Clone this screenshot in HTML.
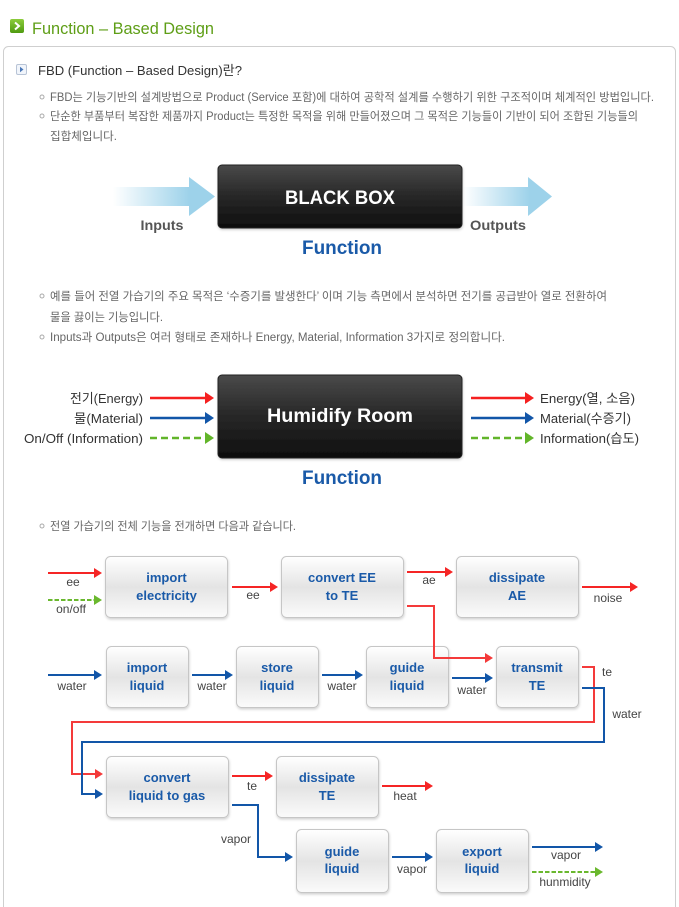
<!DOCTYPE html>
<html><head><meta charset="utf-8"><style>
html,body{margin:0;padding:0;background:#fff;}
svg{display:block;}
.kr{font-family:"Liberation Sans","Noto Sans CJK KR",sans-serif;}
</style></head><body>
<svg width="679" height="907" viewBox="0 0 679 907" xmlns="http://www.w3.org/2000/svg" class="kr">
<defs>
<linearGradient id="bx" x1="0" y1="0" x2="0" y2="1">
<stop offset="0" stop-color="#ffffff"/><stop offset="0.5" stop-color="#e4e4e4"/><stop offset="1" stop-color="#fbfbfb"/>
</linearGradient>
<linearGradient id="dk" x1="0" y1="0" x2="0" y2="1">
<stop offset="0" stop-color="#4a4a4a"/><stop offset="0.45" stop-color="#2a2a2a"/><stop offset="1" stop-color="#0e0e0e"/>
</linearGradient>
<linearGradient id="ga" x1="0" y1="0" x2="1" y2="0">
<stop offset="0" stop-color="#9dd2ea" stop-opacity="0"/><stop offset="0.75" stop-color="#9dd2ea"/><stop offset="1" stop-color="#9dd2ea"/>
</linearGradient>
<linearGradient id="gi" x1="0" y1="0" x2="0" y2="1">
<stop offset="0" stop-color="#8ccc3c"/><stop offset="1" stop-color="#4f9a10"/>
</linearGradient>
<filter id="sh" x="-5%" y="-5%" width="112%" height="120%"><feDropShadow dx="0.5" dy="1.5" stdDeviation="1.2" flood-color="#000" flood-opacity="0.18"/></filter>
</defs>

<!-- header -->
<rect x="10" y="19" width="14" height="14" rx="2" fill="url(#gi)"/>
<path d="M15 22.5 L19 26 L15 29.5" stroke="#fff" stroke-width="2" fill="none"/>
<text x="32" y="34" font-size="17" fill="#5e9e16" textLength="182" lengthAdjust="spacingAndGlyphs">Function – Based Design</text>

<!-- container -->
<rect x="3.5" y="46.5" width="672" height="880" rx="5" fill="#fff" stroke="#cfcfcf"/>

<!-- subheading -->
<rect x="16.5" y="64.5" width="10" height="10" rx="1.5" fill="#f1f5fb" stroke="#b8c4d6"/>
<path d="M20 66.8 L23.5 69.5 L20 72.2 Z" fill="#4a78b8"/>
<text x="38" y="75" font-size="13" fill="#333" textLength="204" lengthAdjust="spacingAndGlyphs">FBD (Function – Based Design)란?</text>

<g fill="none" stroke="#aaa" stroke-width="1">
<circle cx="42" cy="97" r="2"/><circle cx="42" cy="116" r="2"/>
<circle cx="42" cy="296" r="2"/><circle cx="42" cy="337" r="2"/>
<circle cx="42" cy="526" r="2"/>
</g>
<g font-size="11.5" fill="#666">
<text x="50" y="101" textLength="604" lengthAdjust="spacingAndGlyphs">FBD는 기능기반의 설계방법으로 Product (Service 포함)에 대하여 공학적 설계를 수행하기 위한 구조적이며 체계적인 방법입니다.</text>
<text x="50" y="120" textLength="588" lengthAdjust="spacingAndGlyphs">단순한 부품부터 복잡한 제품까지 Product는 특정한 목적을 위해 만들어졌으며 그 목적은 기능들이 기반이 되어 조합된 기능들의</text>
<text x="50" y="140" textLength="67" lengthAdjust="spacingAndGlyphs">집합체입니다.</text>
<text x="50" y="300" textLength="557" lengthAdjust="spacingAndGlyphs">예를 들어 전열 가습기의 주요 목적은 ‘수증기를 발생한다’ 이며 기능 측면에서 분석하면 전기를 공급받아 열로 전환하여</text>
<text x="50" y="321" textLength="113" lengthAdjust="spacingAndGlyphs">물을 끓이는 기능입니다.</text>
<text x="50" y="341" textLength="455" lengthAdjust="spacingAndGlyphs">Inputs과 Outputs은 여러 형태로 존재하나 Energy, Material, Information 3가지로 정의합니다.</text>
<text x="50" y="530" textLength="246" lengthAdjust="spacingAndGlyphs">전열 가습기의 전체 기능을 전개하면 다음과 같습니다.</text>
</g>

<!-- BLACK BOX diagram -->
<path d="M113 187 H189 V177 L215 196.5 L189 216 V206 H113 Z" fill="url(#ga)"/>
<path d="M463 187 H528 V177 L552 196.5 L528 216 V206 H463 Z" fill="url(#ga)"/>
<rect x="218" y="165" width="244" height="63" rx="4" fill="url(#dk)" stroke="#222" filter="url(#sh)"/>
<text x="340" y="204" font-size="19" font-weight="bold" fill="#fff" text-anchor="middle" textLength="110" lengthAdjust="spacingAndGlyphs">BLACK BOX</text>
<text x="162" y="230" font-size="14" font-weight="bold" fill="#555" text-anchor="middle" textLength="43" lengthAdjust="spacingAndGlyphs">Inputs</text>
<text x="498" y="230" font-size="14" font-weight="bold" fill="#555" text-anchor="middle" textLength="56" lengthAdjust="spacingAndGlyphs">Outputs</text>
<text x="342" y="254" font-size="19" font-weight="bold" fill="#1a5aa8" text-anchor="middle" textLength="80" lengthAdjust="spacingAndGlyphs">Function</text>

<!-- Humidify diagram -->
<rect x="218" y="375" width="244" height="83" rx="4" fill="url(#dk)" stroke="#222" filter="url(#sh)"/>
<text x="340" y="422" font-size="19" font-weight="bold" fill="#fff" text-anchor="middle" textLength="146" lengthAdjust="spacingAndGlyphs">Humidify Room</text>
<text x="342" y="484" font-size="19" font-weight="bold" fill="#1a5aa8" text-anchor="middle" textLength="80" lengthAdjust="spacingAndGlyphs">Function</text>
<g stroke-width="2.5" fill="none">
<line x1="150" y1="398" x2="207" y2="398" stroke="#f52020"/>
<line x1="150" y1="418" x2="207" y2="418" stroke="#1256a8"/>
<line x1="150" y1="438" x2="207" y2="438" stroke="#62b52a" stroke-dasharray="7,4"/>
<line x1="471" y1="398" x2="527" y2="398" stroke="#f52020"/>
<line x1="471" y1="418" x2="527" y2="418" stroke="#1256a8"/>
<line x1="471" y1="438" x2="527" y2="438" stroke="#62b52a" stroke-dasharray="7,4"/>
</g>
<g>
<path d="M205 392 L214 398 L205 404Z" fill="#f52020"/>
<path d="M205 412 L214 418 L205 424Z" fill="#1256a8"/>
<path d="M205 432 L214 438 L205 444Z" fill="#62b52a"/>
<path d="M525 392 L534 398 L525 404Z" fill="#f52020"/>
<path d="M525 412 L534 418 L525 424Z" fill="#1256a8"/>
<path d="M525 432 L534 438 L525 444Z" fill="#62b52a"/>
</g>
<g font-size="13" fill="#333">
<text x="143" y="403" text-anchor="end" textLength="73" lengthAdjust="spacingAndGlyphs">전기(Energy)</text>
<text x="143" y="423" text-anchor="end" textLength="69" lengthAdjust="spacingAndGlyphs">물(Material)</text>
<text x="143" y="443" text-anchor="end" textLength="119" lengthAdjust="spacingAndGlyphs">On/Off (Information)</text>
<text x="540" y="403" textLength="95" lengthAdjust="spacingAndGlyphs">Energy(열, 소음)</text>
<text x="540" y="423" textLength="91" lengthAdjust="spacingAndGlyphs">Material(수증기)</text>
<text x="540" y="443" textLength="99" lengthAdjust="spacingAndGlyphs">Information(습도)</text>
</g>

<!-- flow boxes -->
<g fill="url(#bx)" stroke="#c6c6c6" stroke-width="1" filter="url(#sh)">
<rect x="105.5" y="556.5" width="122" height="61" rx="5"/>
<rect x="281.5" y="556.5" width="122" height="61" rx="5"/>
<rect x="456.5" y="556.5" width="122" height="61" rx="5"/>
<rect x="106.5" y="646.5" width="82" height="61" rx="5"/>
<rect x="236.5" y="646.5" width="82" height="61" rx="5"/>
<rect x="366.5" y="646.5" width="82" height="61" rx="5"/>
<rect x="496.5" y="646.5" width="82" height="61" rx="5"/>
<rect x="106.5" y="756.5" width="122" height="61" rx="5"/>
<rect x="276.5" y="756.5" width="102" height="61" rx="5"/>
<rect x="296.5" y="829.5" width="92" height="63" rx="5"/>
<rect x="436.5" y="829.5" width="92" height="63" rx="5"/>
</g>
<g font-size="13" font-weight="bold" fill="#1a5aa8" text-anchor="middle">
<text x="166.5" y="582">import</text><text x="166.5" y="600">electricity</text>
<text x="342" y="582">convert EE</text><text x="342" y="600">to TE</text>
<text x="517" y="582">dissipate</text><text x="517" y="600">AE</text>
<text x="147" y="672">import</text><text x="147" y="690">liquid</text>
<text x="277" y="672">store</text><text x="277" y="690">liquid</text>
<text x="407" y="672">guide</text><text x="407" y="690">liquid</text>
<text x="537" y="672">transmit</text><text x="537" y="690">TE</text>
<text x="167" y="782">convert</text><text x="167" y="800">liquid to gas</text>
<text x="327" y="782">dissipate</text><text x="327" y="800">TE</text>
<text x="342" y="856">guide</text><text x="342" y="873">liquid</text>
<text x="482" y="856">export</text><text x="482" y="873">liquid</text>
</g>

<!-- flow connectors -->
<g fill="none" stroke-width="2">
<g stroke="#f52525">
<line x1="48" y1="573" x2="95" y2="573"/>
<line x1="232" y1="587" x2="271" y2="587"/>
<line x1="407" y1="572" x2="446" y2="572"/>
<line x1="582" y1="587" x2="631" y2="587"/>
<polyline points="407,606 434,606 434,658 486,658" stroke="#f43a3a"/>
<polyline points="582,667 594,667 594,722 72,722 72,774 96,774" stroke="#f43a3a"/>
<line x1="232" y1="776" x2="266" y2="776"/>
<line x1="382" y1="786" x2="426" y2="786"/>
</g>
<g stroke="#1256a8">
<line x1="48" y1="675" x2="95" y2="675"/>
<line x1="192" y1="675" x2="226" y2="675"/>
<line x1="322" y1="675" x2="356" y2="675"/>
<line x1="452" y1="678" x2="486" y2="678"/>
<polyline points="582,688 604,688 604,742 82,742 82,794 96,794"/>
<polyline points="232,805 258,805 258,857 286,857"/>
<line x1="392" y1="857" x2="426" y2="857"/>
<line x1="532" y1="847" x2="596" y2="847"/>
</g>
<g stroke="#6ab82e" stroke-dasharray="4.5,2">
<line x1="48" y1="600" x2="95" y2="600"/>
<line x1="532" y1="872" x2="596" y2="872"/>
</g>
</g>
<g fill="#f52525">
<path d="M94 568 L102 573 L94 578Z"/>
<path d="M270 582 L278 587 L270 592Z"/>
<path d="M445 567 L453 572 L445 577Z"/>
<path d="M630 582 L638 587 L630 592Z"/>
<path d="M485 653 L493 658 L485 663Z" fill="#f43a3a"/>
<path d="M95 769 L103 774 L95 779Z" fill="#f43a3a"/>
<path d="M265 771 L273 776 L265 781Z"/>
<path d="M425 781 L433 786 L425 791Z"/>
</g>
<g fill="#1256a8">
<path d="M94 670 L102 675 L94 680Z"/>
<path d="M225 670 L233 675 L225 680Z"/>
<path d="M355 670 L363 675 L355 680Z"/>
<path d="M485 673 L493 678 L485 683Z"/>
<path d="M95 789 L103 794 L95 799Z"/>
<path d="M285 852 L293 857 L285 862Z"/>
<path d="M425 852 L433 857 L425 862Z"/>
<path d="M595 842 L603 847 L595 852Z"/>
</g>
<g fill="#6ab82e">
<path d="M94 595 L102 600 L94 605Z"/>
<path d="M595 867 L603 872 L595 877Z"/>
</g>

<g font-size="12" fill="#444" text-anchor="middle">
<text x="73" y="586">ee</text>
<text x="71" y="613">on/off</text>
<text x="253" y="599">ee</text>
<text x="429" y="584">ae</text>
<text x="608" y="602">noise</text>
<text x="72" y="690">water</text>
<text x="212" y="690">water</text>
<text x="342" y="690">water</text>
<text x="472" y="694">water</text>
<text x="607" y="676">te</text>
<text x="627" y="718">water</text>
<text x="252" y="790">te</text>
<text x="405" y="800">heat</text>
<text x="236" y="843">vapor</text>
<text x="412" y="873">vapor</text>
<text x="566" y="859">vapor</text>
<text x="565" y="886">hunmidity</text>
</g>
</svg>
</body></html>
